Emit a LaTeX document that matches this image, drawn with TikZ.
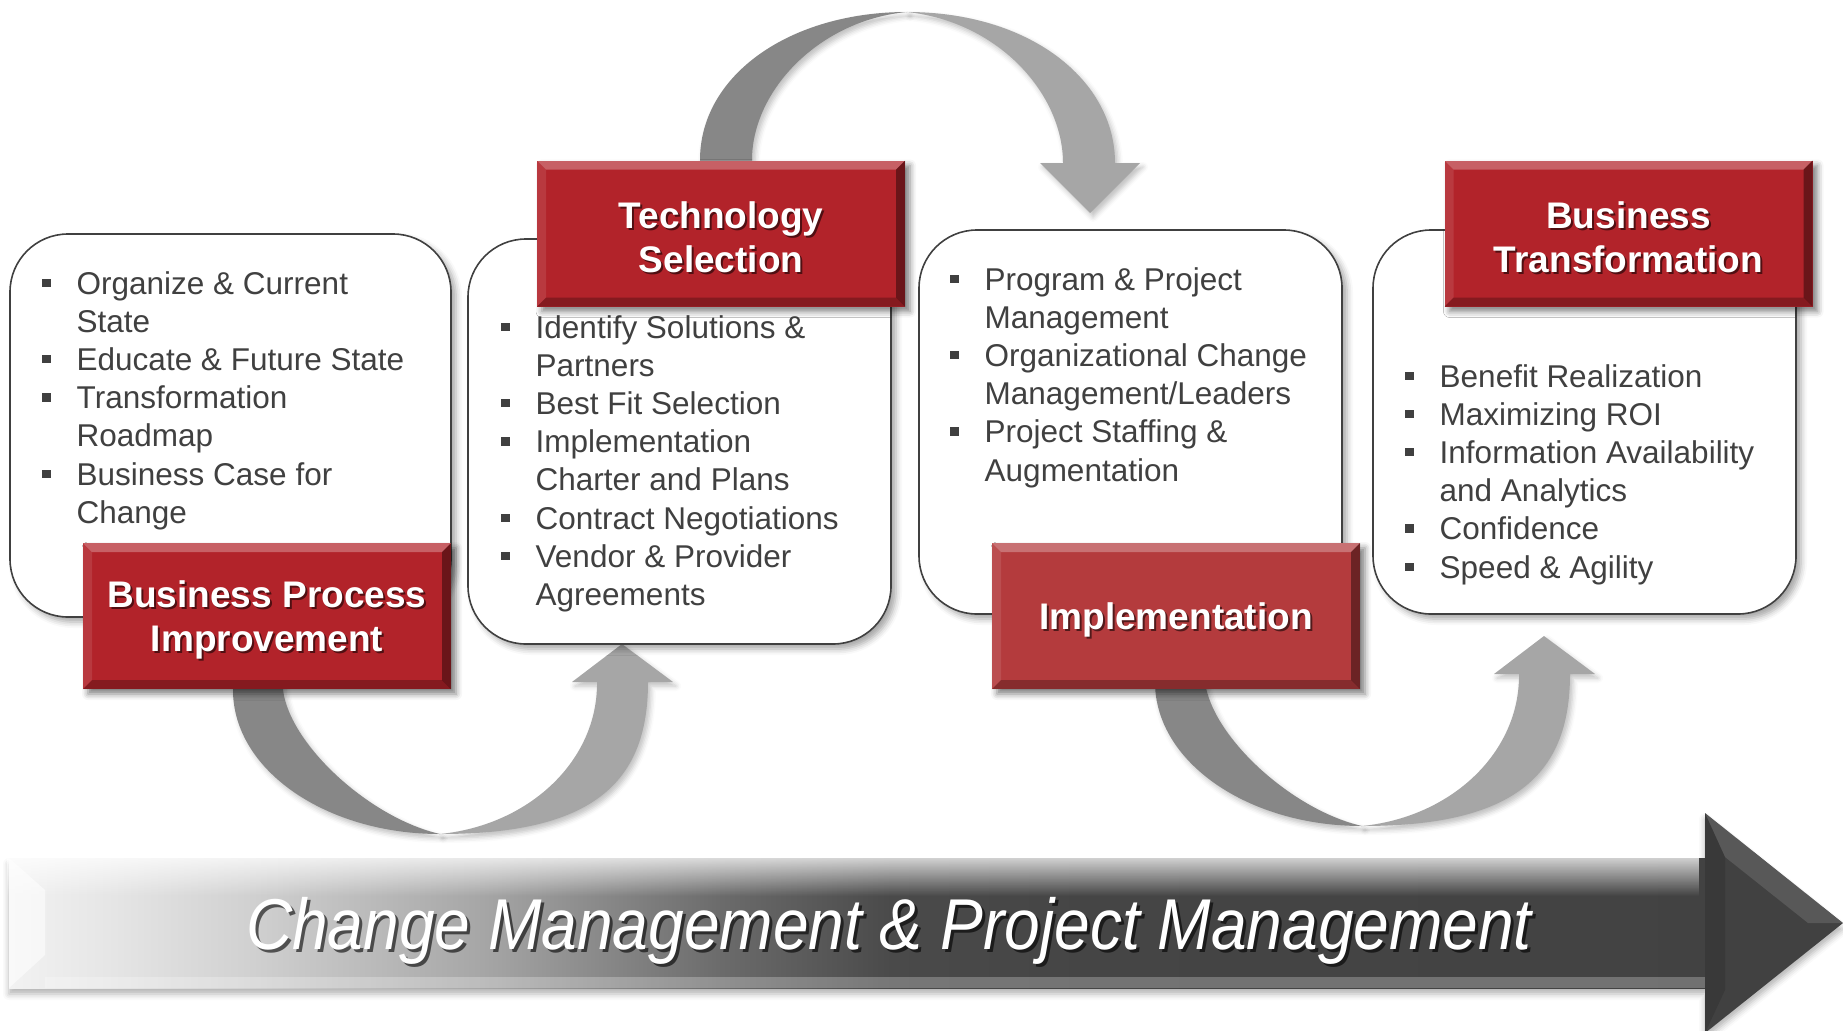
\documentclass[tikz,border=0pt]{standalone}
\usepackage{fontspec}
\setmainfont{Liberation Sans}
\usepackage{tikz}
\usetikzlibrary{calc,fadings,shadows.blur}

\definecolor{txtgray}{HTML}{404040}
\definecolor{boxred}{HTML}{B2232A}
\definecolor{implred}{HTML}{B43B3D}
\definecolor{ribdark}{HTML}{878787}
\definecolor{riblight}{HTML}{A6A6A6}
\definecolor{bardark}{HTML}{414141}

\pgfdeclarehorizontalshading{cmbar}{100bp}{color(0bp)=(black!5); color(25bp)=(black!5);
  color(28bp)=(black!10); color(32bp)=(black!18); color(39bp)=(black!35); color(46bp)=(black!58);
  color(51bp)=(black!71); color(57bp)=(black!73); color(75bp)=(black!74); color(100bp)=(black!74)}

\newcommand\sqb{\raisebox{7pt}{\rule{8.5pt}{8.5pt}}}

\begin{document}
\begin{tikzpicture}[x=1pt,y=-1pt,
  card/.style={draw=txtgray,line width=1.6pt,fill=white,rounded corners=58pt,
    blur shadow={shadow xshift=5pt,shadow yshift=-5pt,shadow blur radius=6pt,shadow opacity=35}},
  items/.style={anchor=base west,inner sep=0pt,text=txtgray,font=\fontsize{31.5}{38.2}\selectfont},
  redbox/.style={rectangle,fill=#1,minimum width=368pt,minimum height=146pt,inner sep=0pt,
    blur shadow={shadow xshift=5pt,shadow yshift=-5pt,shadow blur radius=6pt,shadow opacity=50},
    path picture={
      \path (path picture bounding box.north west) coordinate (bnw)
            (path picture bounding box.north east) coordinate (bne)
            (path picture bounding box.south west) coordinate (bsw)
            (path picture bounding box.south east) coordinate (bse);
      \fill[white,opacity=.28] (bnw) -- (bne) -- ([shift={(-9pt,-9pt)}]bne) -- ([shift={(9pt,-9pt)}]bnw) -- cycle;
      \fill[white,opacity=.1] (bnw) -- ([shift={(9pt,-9pt)}]bnw) -- ([shift={(9pt,9pt)}]bsw) -- (bsw) -- cycle;
      \fill[black,opacity=.4] (bne) -- (bse) -- ([shift={(-9pt,9pt)}]bse) -- ([shift={(-9pt,-9pt)}]bne) -- cycle;
      \fill[black,opacity=.25] (bsw) -- (bse) -- ([shift={(-9pt,9pt)}]bse) -- ([shift={(9pt,9pt)}]bsw) -- cycle;
    }},
  redtext/.style={text=white,align=center,font=\bfseries\fontsize{37}{43.5}\selectfont},
  ribbon/.style={blur shadow={shadow xshift=3pt,shadow yshift=-4pt,shadow blur radius=5pt,shadow opacity=25}},
  bartext/.style={font=\itshape\fontsize{72}{80}\selectfont}]
\useasboundingbox (0,0) rectangle (1843,1030);

% big process arrow
\path[blur shadow={shadow xshift=0pt,shadow yshift=-6pt,shadow blur radius=6pt,shadow opacity=30}]
  (9,858) -- (1705,858) -- (1705,813) -- (1843,923) -- (1705,1033) -- (1705,988) -- (9,988) -- cycle;
\shade[shading=cmbar] (9,858) rectangle (1705,988);
\fill[white,opacity=.75,path fading=south] (9,858) rectangle (1705,896);
\fill[white,opacity=.25] (45,977) rectangle (1705,988);
\fill[white,opacity=.55] (9,858) -- (45,890) -- (45,955) -- (9,988) -- cycle;
\fill[bardark] (1705,813) -- (1843,923) -- (1705,1033) -- cycle;
\fill[white,opacity=.12] (1705,813) -- (1843,923) -- (1808,923) -- (1725,857) -- cycle;
\fill[black,opacity=.12] (1705,813) -- (1725,857) -- (1725,990) -- (1705,1033) -- cycle;
\node[bartext,text=black,text opacity=.6] (cm-sh) at (892,934)
  {\scalebox{.89}[1]{Change Management \& Project Management}};
\node[bartext,text=white] (cm) at (889,931)
  {\scalebox{.89}[1]{Change Management \& Project Management}};

% loops between the stages
\foreach \dx/\dy in {0/0,922/-8}{
\begin{scope}[shift={(\dx,\dy)}]
  \fill[ribdark,ribbon] (233,650) -- (233,690) .. controls (233,770) and (326,834) .. (440,834)
    .. controls (370,818) and (290,745) .. (283,690) -- (283,650) -- cycle;
  \fill[riblight,ribbon] (440,834) .. controls (590,834) and (648,785) .. (648,682) -- (673,682)
    -- (622,644) -- (572,682) -- (597,682) .. controls (598,760) and (530,825) .. (440,834) -- cycle;
\end{scope}}
\fill[ribdark,ribbon] (700,180) -- (700,160) .. controls (700,75) and (790,12) .. (907,12)
  .. controls (820,20) and (752,90) .. (752,160) -- (752,180) -- cycle;
\fill[riblight,ribbon] (907,12) .. controls (1030,12) and (1115,80) .. (1115,163) -- (1140,163)
  -- (1090,213) -- (1040,163) -- (1063,163) .. controls (1063,95) and (1000,22) .. (907,12) -- cycle;

% stage cards
\node[card,minimum width=441pt,minimum height=383pt] (bpi-card) at (230.5,425.5) {};
\node[card,minimum width=423pt,minimum height=405pt] (tech-card) at (679.5,441.5) {};
\node[card,minimum width=423pt,minimum height=384pt] (impl-card) at (1130.5,422) {};
\node[card,minimum width=423pt,minimum height=384pt] (bt-card) at (1584.5,422) {};

\node[items] (bpi-list) at (42,294) {\begin{tabular}[t]{@{}l@{\hspace{26pt}}l@{}}
  \sqb & Organize \& Current\\
       & State\\
  \sqb & Educate \& Future State\\
  \sqb & Transformation\\
       & Roadmap\\
  \sqb & Business Case for\\
       & Change
\end{tabular}};
\node[items] (tech-list) at (501,338) {\begin{tabular}[t]{@{}l@{\hspace{26pt}}l@{}}
  \sqb & Identify Solutions \&\\
       & Partners\\
  \sqb & Best Fit Selection\\
  \sqb & Implementation\\
       & Charter and Plans\\
  \sqb & Contract Negotiations\\
  \sqb & Vendor \& Provider\\
       & Agreements
\end{tabular}};
\node[items] (impl-list) at (950,290) {\begin{tabular}[t]{@{}l@{\hspace{26pt}}l@{}}
  \sqb & Program \& Project\\
       & Management\\
  \sqb & Organizational Change\\
       & Management/Leaders\\
  \sqb & Project Staffing \&\\
       & Augmentation
\end{tabular}};
\node[items] (bt-list) at (1405,387) {\begin{tabular}[t]{@{}l@{\hspace{26pt}}l@{}}
  \sqb & Benefit Realization\\
  \sqb & Maximizing ROI\\
  \sqb & Information Availability\\
       & and Analytics\\
  \sqb & Confidence\\
  \sqb & Speed \& Agility
\end{tabular}};

% stage titles
\foreach \n/\x/\y/\col/\txt in {bpi/267/616/boxred/{Business Process\\Improvement},
    tech/721/233.5/boxred/{Technology\\Selection},
    impl/1176/616/implred/{Implementation},
    bt/1628.5/233.5/boxred/{Business\\Transformation}}{
  \node[redbox=\col] (\n) at (\x,\y) {};
  \node[redtext,text=black,text opacity=.55] (\n-sh) at ([shift={(2pt,-6pt)}]\n) {\txt};
  \node[redtext] (\n-t) at ([yshift=-4pt]\n) {\txt};
}
\end{tikzpicture}
\end{document}
